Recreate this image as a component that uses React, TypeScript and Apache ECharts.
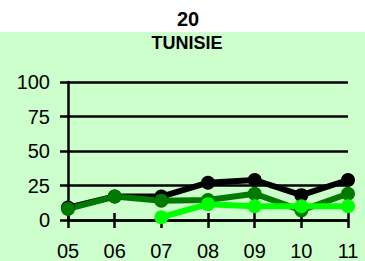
import React, { useEffect, useRef } from "react";
import * as echarts from "echarts";

const categories = ["05", "06", "07", "08", "09", "10", "11"];
const seriesBlack = [9, 17, 17, 27, 29, 18, 29];
const seriesDarkGreen = [8, 17, 14, 14.5, 19, 7, 19];
const seriesBrightGreen = [null, null, 2, 11.5, 10, 10, 10];
const yTicks = [0, 25, 50, 75, 100];
const titleTop = "20";
const titleSub = "TUNISIE";

const FONT = "'Liberation Sans', Arial, sans-serif";

export default function App() {
  const ref = useRef<HTMLDivElement>(null);
  useEffect(() => {
    if (!ref.current) return;
    const chart = echarts.init(ref.current, null, { renderer: "svg" });
    const mk = (name: string, data: (number | null)[], color: string) => ({
      type: "line",
      name,
      data,
      symbol: "circle",
      symbolSize: 14,
      lineStyle: { color, width: 6 },
      itemStyle: { color },
      connectNulls: false,
      z: 3,
    });
    chart.setOption({
      animation: false,
      backgroundColor: "#ffffff",
      graphic: [
        {
          type: "rect",
          shape: { x: 0, y: 32, width: 365, height: 229 },
          style: { fill: "#ccffcc" },
          z: -10,
          silent: true,
        },
        {
          type: "text",
          x: 188,
          y: 19,
          style: {
            text: titleTop,
            fontFamily: FONT,
            fontSize: 20,
            fontWeight: "bold",
            fill: "#000",
            align: "center",
            verticalAlign: "middle",
          },
        },
        {
          type: "text",
          x: 187,
          y: 43,
          style: {
            text: titleSub,
            fontFamily: FONT,
            fontSize: 18,
            fontWeight: "bold",
            fill: "#000",
            align: "center",
            verticalAlign: "middle",
          },
        },
      ],
      grid: { left: 68, right: 17, top: 82, bottom: 41 },
      xAxis: [
        {
          type: "category",
          data: categories,
          boundaryGap: false,
          axisLine: { show: true, lineStyle: { color: "#000", width: 2.5 } },
          axisTick: { show: true, length: 8, lineStyle: { color: "#000", width: 2.5 }, alignWithLabel: true },
          axisLabel: { fontFamily: FONT, fontSize: 20, color: "#000", margin: 21 },
          splitLine: { show: false },
        },
        {
          type: "category",
          data: categories,
          boundaryGap: false,
          position: "bottom",
          axisLine: { show: false },
          axisTick: { show: true, inside: true, length: 7, lineStyle: { color: "#000", width: 2.5 } },
          axisLabel: { show: false },
          splitLine: { show: false },
        },
      ],
      yAxis: {
        type: "value",
        min: yTicks[0],
        max: yTicks[yTicks.length - 1],
        interval: 25,
        axisLine: { show: true, lineStyle: { color: "#000", width: 2.5 } },
        axisTick: { show: true, length: 8, lineStyle: { color: "#000", width: 2.5 } },
        axisLabel: { fontFamily: FONT, fontSize: 20, color: "#000", margin: 18 },
        splitLine: { show: true, lineStyle: { color: "#000", width: 2.5 } },
      },
      series: [
        mk("A", seriesBlack, "#000000"),
        mk("B", seriesDarkGreen, "#007a00"),
        mk("C", seriesBrightGreen, "#00ff00"),
      ],
    });
    return () => chart.dispose();
  }, []);
  return (
    <div
      ref={ref}
      style={{ position: "fixed", left: 0, top: 0, width: 365, height: 261 }}
    />
  );
}
